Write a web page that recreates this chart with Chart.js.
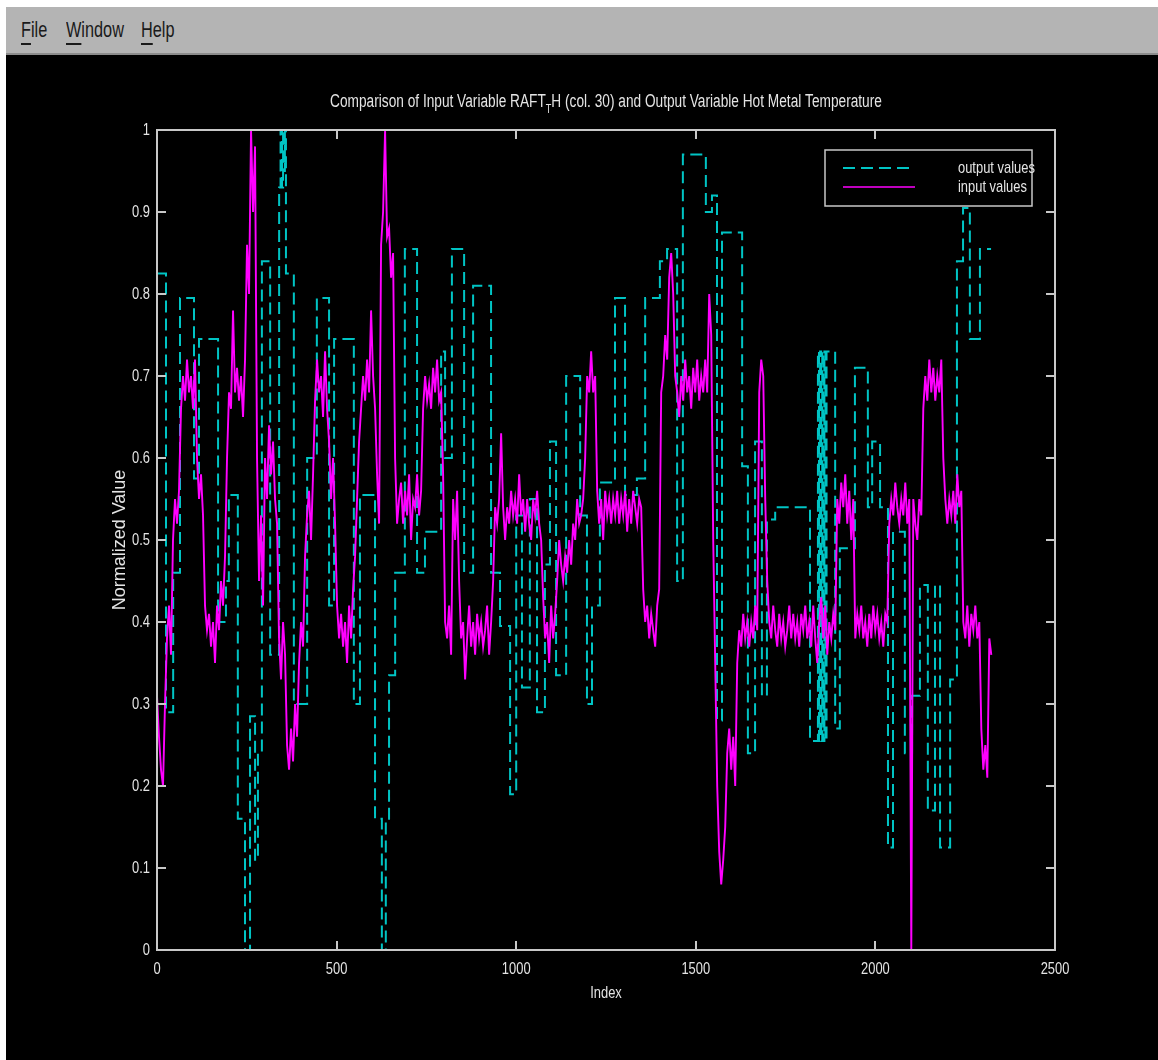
<!DOCTYPE html>
<html>
<head>
<meta charset="utf-8">
<title>RAFT_TH vs Hot Metal Temperature</title>
<script src="https://cdn.jsdelivr.net/npm/chart.js@4.4.1/dist/chart.umd.min.js"></script>
<style>
  html, body { margin: 0; padding: 0; background: #ffffff; }
  body { width: 1158px; height: 1060px; position: relative; overflow: hidden; }
  #menubar {
    position: absolute; left: 6px; top: 7px; width: 1152px; height: 46px;
    background: #b4b4b4; border-bottom: 2px solid #8c8c8c;
    font-family: 'Liberation Sans', Arial, sans-serif;
    font-size: 22px; color: #1a1a1a;
  }
  #menubar span { position: absolute; top: 10px; transform: scaleX(0.74); transform-origin: 0 0; white-space: nowrap; }
  #menubar u { text-decoration: underline; text-decoration-thickness: 2px; text-underline-offset: 6px; }
  #figure { position: absolute; left: 6px; top: 55px; width: 1152px; height: 1005px; background: #000000; }
</style>
</head>
<body>
<div id="menubar">
  <span style="left:15px"><u>F</u>ile</span>
  <span style="left:60px"><u>W</u>indow</span>
  <span style="left:135px"><u>H</u>elp</span>
</div>
<div id="figure"><canvas id="plot" width="1152" height="1005"></canvas></div>
<script>
// ---- data -------------------------------------------------------------
// Output variable (hot metal temperature), piecewise constant:
// each value holds from its index until the next index.
const outputIdx = [0,25,45,64,103,117,170,192,200,225,245,259,273,281,292,315,340,344,348,351,354,356,359,381,418,445,479,493,548,565,607,626,637,646,663,690,724,746,791,802,821,855,880,930,955,983,1000,1016,1038,1058,1080,1094,1111,1139,1178,1197,1211,1233,1275,1303,1336,1359,1400,1420,1448,1464,1528,1545,1559,1573,1629,1645,1665,1684,1698,1721,1818,1840,1843,1846,1849,1852,1855,1858,1861,1864,1888,1901,1943,1979,1991,2013,2035,2049,2082,2102,2124,2146,2166,2180,2208,2227,2244,2263,2291,2322];
const outputVal = [0.825,0.29,0.46,0.795,0.575,0.745,0.40,0.45,0.555,0.16,0.0,0.285,0.11,0.24,0.84,0.36,0.93,1.0,0.93,1.0,0.95,1.0,0.825,0.30,0.60,0.795,0.42,0.745,0.30,0.555,0.16,0.0,0.16,0.335,0.46,0.855,0.46,0.51,0.73,0.60,0.855,0.46,0.81,0.46,0.395,0.19,0.53,0.32,0.55,0.29,0.47,0.62,0.335,0.70,0.53,0.30,0.42,0.57,0.795,0.555,0.575,0.795,0.84,0.855,0.45,0.97,0.90,0.92,0.28,0.875,0.59,0.24,0.62,0.31,0.525,0.54,0.255,0.73,0.255,0.73,0.255,0.73,0.255,0.73,0.255,0.73,0.27,0.49,0.71,0.54,0.62,0.54,0.125,0.51,0.24,0.31,0.445,0.17,0.445,0.125,0.33,0.84,0.905,0.745,0.855,0.855];

// Input variable RAFT_TH (col. 30), sampled every inputStep index units.
const inputStep = 5.57;
const inputVal = [
  0.31,0.26,0.22,0.2,0.3,0.38,0.42,0.36,0.5,0.55,0.52,0.56,0.66,0.7,0.67,0.72,0.68,0.7,0.66,0.72,
  0.6,0.55,0.58,0.53,0.42,0.39,0.41,0.37,0.4,0.35,0.42,0.39,0.45,0.42,0.48,0.6,0.68,0.66,0.78,0.68,
  0.71,0.67,0.7,0.65,0.72,0.86,0.8,1.0,0.9,0.98,0.6,0.45,0.53,0.42,0.6,0.55,0.64,0.58,0.62,0.55,
  0.52,0.38,0.33,0.4,0.36,0.25,0.22,0.27,0.23,0.3,0.26,0.35,0.4,0.37,0.48,0.53,0.56,0.5,0.58,0.67,
  0.72,0.68,0.7,0.65,0.73,0.66,0.62,0.55,0.6,0.52,0.42,0.38,0.41,0.37,0.4,0.35,0.42,0.38,0.44,0.48,
  0.55,0.62,0.66,0.7,0.67,0.72,0.68,0.78,0.7,0.66,0.58,0.52,0.86,0.9,1.0,0.87,0.88,0.82,0.85,0.6,
  0.52,
  0.55,0.57,0.52,0.56,0.53,0.58,0.5,0.55,0.54,0.58,0.53,0.56,
  0.66,0.7,0.67,0.69,0.66,0.71,0.68,0.72,0.67,0.68,
  0.58,0.4,0.38,0.42,0.36,0.55,0.5,0.56,0.45,0.38,
  0.4,0.33,0.38,0.42,0.37,0.4,0.36,0.41,0.38,0.4,
  0.37,0.39,0.42,0.36,0.4,0.45,0.54,0.52,0.55,0.63,
  0.54,0.5,0.54,0.52,0.56,0.53,0.55,0.52,0.58,0.53,
  0.55,0.51,0.55,0.52,0.5,0.55,0.53,0.56,0.52,0.5,
  0.43,0.38,0.4,0.35,0.42,0.38,0.41,0.45,0.5,0.47,
  0.45,0.48,0.46,0.5,0.47,0.52,0.5,0.55,0.52,0.53,
  0.55,0.6,0.7,0.68,0.73,0.68,0.7,0.56,0.52,0.55,
  0.5,0.56,0.53,0.55,0.52,0.55,0.53,0.56,0.52,0.55,
  0.53,0.56,0.51,0.55,0.52,0.56,0.54,0.52,0.55,0.54,
  0.44,0.4,0.42,0.38,0.41,0.39,0.37,0.42,0.44,0.68,
  0.7,0.75,0.72,0.82,0.85,0.8,0.7,0.68,0.65,0.7,
  0.67,0.72,0.68,0.7,0.66,0.71,0.68,0.72,0.67,0.7,
  0.68,0.72,0.68,0.8,0.75,0.5,0.35,0.2,0.12,0.08,
  0.11,0.15,0.24,0.27,0.22,0.26,0.2,0.35,0.39,0.37,
  0.41,0.38,0.4,0.37,0.4,0.38,0.42,0.39,0.68,0.72,
  0.7,0.55,0.45,0.4,0.38,0.42,0.39,0.37,0.41,0.38,
  0.4,0.37,0.39,0.42,0.38,0.41,0.38,0.4,0.37,0.41,
  0.39,0.42,0.38,0.4,0.37,0.42,0.38,0.35,0.4,0.43,
  0.38,0.42,0.36,0.4,0.38,0.41,0.39,0.55,0.52,0.57,
  0.54,0.58,0.52,0.56,0.5,0.55,0.38,0.41,0.39,0.42,
  0.38,0.4,0.37,0.41,0.38,0.42,0.39,0.41,0.38,0.4,
  0.37,0.41,0.4,0.52,0.55,0.53,0.57,0.54,0.52,0.55,
  0.53,0.57,0.52,0.55,0.0,0.55,0.52,0.5,0.55,0.53,
  0.66,0.7,0.67,0.72,0.68,0.71,0.67,0.7,0.68,0.72,
  0.6,0.55,0.52,0.55,0.53,0.56,0.52,0.58,0.54,0.56,
  0.4,0.38,0.42,0.37,0.41,0.39,0.42,0.38,0.4,0.27,
  0.22,0.25,0.21,0.38,0.36
];

const seriesNames = ['output values', 'input values'];
const titleParts = ['Comparison of Input Variable RAFT', 'T', 'H (col. 30) and Output Variable Hot Metal Temperature'];
const xAxisLabel = 'Index';
const yAxisLabel = 'Normalized Value';

// ---- styling ----------------------------------------------------------
const FONT = "'Liberation Sans', Arial, sans-serif";
const HSCALE = 0.76;          // narrow screen font look
const TEXT = '#e4e4e4';
const FRAME = '#c8c8c8';
const CYAN = '#00c4c4';
const MAGENTA = '#ff00ff';
const DASH = [12, 6];

const outputPoints = outputIdx.map((x, i) => ({ x, y: outputVal[i] }));
const inputPoints = inputVal.map((y, i) => ({ x: i * inputStep, y }));

function narrowText(ctx, str, x, y, align, size, hs = HSCALE) {
  ctx.save();
  ctx.font = size + 'px ' + FONT;
  ctx.translate(x, y);
  ctx.scale(hs, 1);
  ctx.textAlign = align;
  ctx.textBaseline = 'middle';
  ctx.fillText(str, 0, 0);
  ctx.restore();
}
function narrowWidth(ctx, str, size) {
  ctx.font = size + 'px ' + FONT;
  return ctx.measureText(str).width * HSCALE;
}
const fmt = v => String(Math.round(v * 10) / 10);

// Frame on all four sides with inward tick marks, tick labels, title, axis labels, legend
const decorations = {
  id: 'decorations',
  afterDatasetsDraw(chart) {
    const { ctx, chartArea: a, scales } = chart;
    const xs = scales.x, ys = scales.y;
    ctx.save();
    ctx.strokeStyle = FRAME;
    ctx.lineWidth = 2;
    ctx.strokeRect(a.left, a.top, a.right - a.left, a.bottom - a.top);
    const tl = 9;
    ctx.beginPath();
    xs.ticks.forEach(t => {
      const px = Math.round(xs.getPixelForValue(t.value));
      ctx.moveTo(px, a.bottom); ctx.lineTo(px, a.bottom - tl);
      ctx.moveTo(px, a.top); ctx.lineTo(px, a.top + tl);
    });
    ys.ticks.forEach(t => {
      const py = Math.round(ys.getPixelForValue(t.value));
      ctx.moveTo(a.left, py); ctx.lineTo(a.left + tl, py);
      ctx.moveTo(a.right, py); ctx.lineTo(a.right - tl, py);
    });
    ctx.stroke();

    ctx.fillStyle = TEXT;
    // tick labels
    xs.ticks.forEach(t => narrowText(ctx, String(t.value), xs.getPixelForValue(t.value), a.bottom + 19, 'center', 17));
    ys.ticks.forEach(t => narrowText(ctx, fmt(t.value), a.left - 7, ys.getPixelForValue(t.value), 'right', 17));

    // title with subscript
    const w0 = narrowWidth(ctx, titleParts[0], 18);
    const w1 = narrowWidth(ctx, titleParts[1], 12);
    const w2 = narrowWidth(ctx, titleParts[2], 18);
    const cx = (a.left + a.right) / 2;
    let tx = cx - (w0 + w1 + w2) / 2;
    const ty = a.top - 28;
    narrowText(ctx, titleParts[0], tx, ty, 'left', 18); tx += w0;
    narrowText(ctx, titleParts[1], tx, ty + 8, 'left', 12); tx += w1;
    narrowText(ctx, titleParts[2], tx, ty, 'left', 18);

    // axis labels
    narrowText(ctx, xAxisLabel, cx, a.bottom + 43, 'center', 17);
    ctx.save();
    ctx.translate(a.left - 37, (a.top + a.bottom) / 2);
    ctx.rotate(-Math.PI / 2);
    narrowText(ctx, yAxisLabel, 0, 0, 'center', 18, 1);
    ctx.restore();

    // legend box
    const bw = 207, bh = 56;
    const bx = a.right - 23 - bw, by = a.top + 20;
    ctx.fillStyle = '#000';
    ctx.fillRect(bx, by, bw, bh);
    ctx.strokeStyle = FRAME;
    ctx.lineWidth = 1.5;
    ctx.strokeRect(bx, by, bw, bh);
    const rows = [
      { label: seriesNames[0], color: CYAN, dash: DASH, width: 2, y: by + 18, len: 67 },
      { label: seriesNames[1], color: MAGENTA, dash: [], width: 1.6, y: by + 37, len: 72 }
    ];
    rows.forEach(r => {
      ctx.strokeStyle = r.color;
      ctx.lineWidth = r.width;
      ctx.setLineDash(r.dash);
      ctx.beginPath();
      ctx.moveTo(bx + 18, r.y); ctx.lineTo(bx + 18 + r.len, r.y);
      ctx.stroke();
      ctx.setLineDash([]);
      ctx.fillStyle = TEXT;
      narrowText(ctx, r.label, bx + 133, r.y, 'left', 17);
    });
    ctx.restore();
  }
};

new Chart(document.getElementById('plot'), {
  type: 'line',
  data: {
    datasets: [
      {
        label: seriesNames[0],
        data: outputPoints,
        borderColor: CYAN,
        borderWidth: 2,
        borderDash: DASH,
        stepped: true,
        pointRadius: 0,
        fill: false,
        order: 2
      },
      {
        label: seriesNames[1],
        data: inputPoints,
        borderColor: MAGENTA,
        borderWidth: 1.9,
        pointRadius: 0,
        tension: 0,
        fill: false,
        order: 1
      }
    ]
  },
  options: {
    responsive: false,
    animation: false,
    events: [],
    layout: { padding: { left: 0, top: 75, right: 103, bottom: 50 } },
    plugins: { legend: { display: false }, title: { display: false }, tooltip: { enabled: false } },
    scales: {
      x: {
        type: 'linear', min: 0, max: 2500,
        afterFit(s) { s.height = 60; },
        ticks: { stepSize: 500, display: false },
        grid: { drawOnChartArea: false, drawTicks: false },
        border: { display: false }
      },
      y: {
        min: 0, max: 1,
        afterFit(s) { s.width = 151; },
        ticks: { stepSize: 0.1, display: false },
        grid: { drawOnChartArea: false, drawTicks: false },
        border: { display: false }
      }
    }
  },
  plugins: [decorations]
});
</script>
</body>
</html>
